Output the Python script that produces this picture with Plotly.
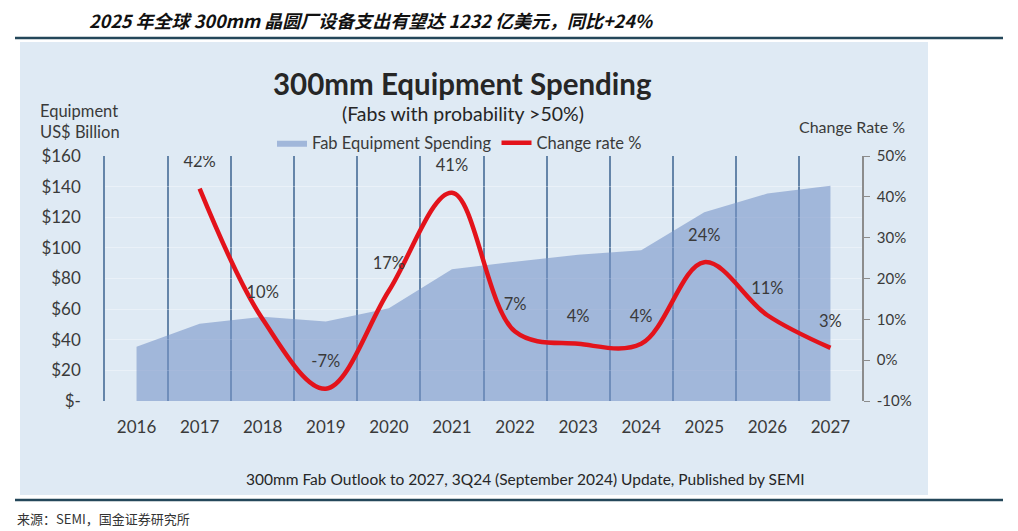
import plotly.graph_objects as go

# data
years = ["2016", "2017", "2018", "2019", "2020", "2021",
         "2022", "2023", "2024", "2025", "2026", "2027"]
spending = [35.5, 50.5, 55, 52, 60.5, 86, 91, 95.5, 98.5, 123.2, 135.5, 140.5]
rate_years = years[1:]
change_rate = [42, 10, -7, 17, 41, 7, 4, 4, 24, 11, 3]
rate_labels = [f"{v}%" for v in change_rate]

left_ticks = [0, 20, 40, 60, 80, 100, 120, 140, 160]
left_ticktext = ["$-", "$20", "$40", "$60", "$80", "$100", "$120", "$140", "$160"]
right_ticks = [-10, 0, 10, 20, 30, 40, 50]
right_ticktext = [f"{v}%" for v in right_ticks]

W, H = 1018, 531
OFF = 8  # the page body margin pushes the figure 8px right and down
L, R, T, B = 105, 862, 156, 401  # plot area in page pixels


def px_x(x):
    return (x - L) / (R - L)


def px_y(y):
    return (B - y) / (B - T)


FONT = "Lato"
TXT = "#3a3a3a"
BG = "#dfeaf4"
GRID = "#6585a9"

fig = go.Figure()

fig.add_trace(go.Scatter(
    x=years, y=spending, name="Fab Equipment Spending",
    mode="lines", fill="tozeroy",
    line=dict(width=0, color="rgba(120,148,200,0.6)"),
    fillcolor="rgba(120,148,200,0.6)",
))

fig.add_trace(go.Scatter(
    x=rate_years, y=change_rate, name="Change rate %", yaxis="y2",
    mode="lines+markers+text", text=rate_labels, textposition="top center",
    textfont=dict(family=FONT, size=16.5, color=TXT),
    line=dict(color="#e3131b", width=4.5, shape="spline", smoothing=1.0),
    marker=dict(size=26, color="rgba(0,0,0,0)"),
))

# light panel behind the chart, rules above and below
shapes = [
    dict(type="rect", xref="paper", yref="paper", layer="below",
         x0=px_x(20), x1=px_x(928), y0=px_y(495), y1=px_y(42),
         fillcolor=BG, line=dict(width=0)),
    dict(type="line", xref="paper", yref="paper",
         x0=px_x(15), x1=px_x(1003), y0=px_y(38), y1=px_y(38),
         line=dict(color="#24475a", width=2.5)),
    dict(type="line", xref="paper", yref="paper",
         x0=px_x(15), x1=px_x(1003), y0=px_y(500), y1=px_y(500),
         line=dict(color="#24475a", width=2.5)),
]

annotations = [
    dict(text="2025 年全球 300mm 晶圆厂设备支出有望达 1232 亿美元，同比+24%",
         x=px_x(87), y=px_y(20), xanchor="left", yanchor="middle",
         font=dict(family="Noto Sans CJK SC", size=18, color="#111111",
                   weight="bold", style="italic")),
    dict(text="<b>300mm Equipment Spending</b>", x=px_x(462), y=px_y(83),
         xanchor="center", yanchor="middle",
         font=dict(family=FONT, size=29.5, color="#262626")),
    dict(text="(Fabs with probability >50%)", x=px_x(463), y=px_y(114),
         xanchor="center", yanchor="middle",
         font=dict(family=FONT, size=19.5, color="#262626")),
    dict(text="Equipment<br>US$ Billion", x=px_x(38), y=px_y(121),
         xanchor="left", yanchor="middle", align="left",
         font=dict(family=FONT, size=16.5, color=TXT)),
    dict(text="Change Rate %", x=px_x(907), y=px_y(126),
         xanchor="right", yanchor="middle",
         font=dict(family=FONT, size=16, color=TXT)),
    dict(text="300mm Fab Outlook to 2027, 3Q24 (September 2024) Update, Published by SEMI",
         x=px_x(525), y=px_y(479), xanchor="center", yanchor="middle",
         font=dict(family=FONT, size=15.5, color="#262626")),
    dict(text="来源：SEMI，国金证券研究所", x=px_x(15), y=px_y(518),
         xanchor="left", yanchor="middle",
         font=dict(family="Noto Sans CJK SC", size=13, color="#333333")),
]
for a in annotations:
    a.update(xref="paper", yref="paper", showarrow=False)

fig.update_layout(
    width=W - OFF, height=H - OFF,
    margin=dict(l=L - OFF, r=W - R, t=T - OFF, b=H - B, autoexpand=False),
    paper_bgcolor="white", plot_bgcolor=BG,
    font=dict(family=FONT, color=TXT),
    shapes=shapes, annotations=annotations,
    showlegend=True,
    legend=dict(orientation="h", x=px_x(272), y=px_y(143), xanchor="left",
                yanchor="middle", bgcolor="rgba(0,0,0,0)",
                font=dict(family=FONT, size=16.5, color=TXT), itemwidth=30),
    xaxis=dict(type="category", range=[-0.5, len(years) - 0.5],
               tickson="boundaries", showgrid=True,
               gridcolor=GRID, gridwidth=1.5, ticks="", showline=False,
               zeroline=False, automargin=False, ticklabelstandoff=14,
               tickfont=dict(family=FONT, size=17, color=TXT)),
    # the left axis line stands in for the first category boundary line
    yaxis=dict(range=[0, 160], tickvals=left_ticks, ticktext=left_ticktext,
               showgrid=True, gridcolor="rgba(255,255,255,0.35)", gridwidth=1,
               zeroline=False, showline=True, linecolor=GRID, linewidth=1.5,
               automargin=False, ticklabelstandoff=19,
               tickfont=dict(family=FONT, size=17, color=TXT)),
    yaxis2=dict(range=[-10, 50], tickvals=right_ticks, ticktext=right_ticktext,
                overlaying="y", side="right", showgrid=False, zeroline=False,
                showline=True, linecolor="#8c8c8c", linewidth=1.5,
                ticks="outside", ticklen=6, tickcolor="#8c8c8c",
                automargin=False, ticklabelstandoff=4,
                tickfont=dict(family=FONT, size=15, color=TXT)),
)

fig.write_html("out.html")
